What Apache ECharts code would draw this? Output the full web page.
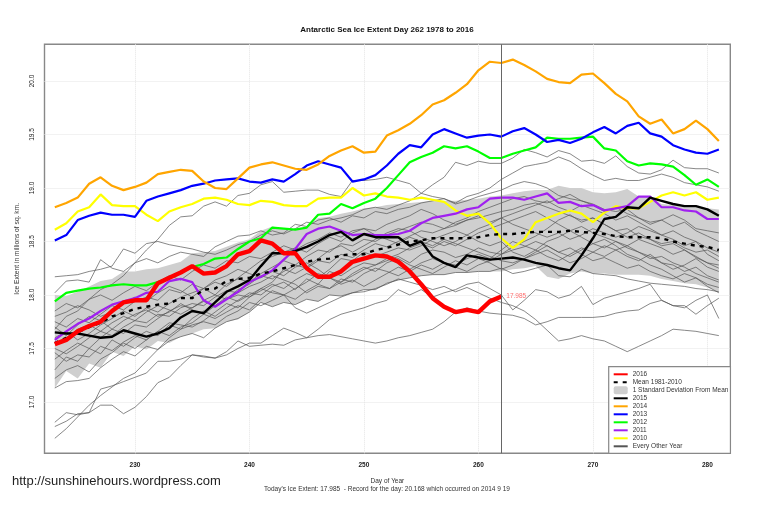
<!DOCTYPE html>
<html>
<head>
<meta charset="utf-8">
<style>html,body{margin:0;padding:0;background:#fff}#chart{width:759px;height:506px}</style>
<script src="https://cdn.jsdelivr.net/npm/echarts@6/dist/echarts.min.js"></script>
</head>
<body>
<div id="chart"></div>
<script>
// days 223..281
var startDay = 223;
var xTicks = [230, 240, 250, 260, 270, 280];
var yTicks = [17, 17.5, 18, 18.5, 19, 19.5, 20];

var y2016 = [17.54,17.58,17.66,17.71,17.75,17.85,17.93,17.95,17.95,18.11,
  18.16,18.21,18.27,18.20,18.21,18.27,18.38,18.41,18.51,18.48,
  18.39,18.39,18.25,18.17,18.17,18.22,18.31,18.34,18.37,18.36,
  18.31,18.22,18.10,17.97,17.89,17.84,17.86,17.84,17.94,17.985];
var y2015 = [17.65,17.64,17.64,17.62,17.60,17.61,17.67,17.64,17.61,17.64,
  17.69,17.79,17.85,17.83,17.93,18.03,18.08,18.14,18.27,18.39,
  18.39,18.41,18.45,18.50,18.56,18.59,18.51,18.57,18.54,18.54,
  18.54,18.46,18.50,18.36,18.30,18.26,18.37,18.35,18.33,18.34,
  18.35,18.33,18.30,18.28,18.25,18.23,18.37,18.53,18.71,18.73,
  18.82,18.81,18.91,18.88,18.85,18.83,18.83,18.80,18.74];
var y2014 = [18.82,18.86,18.91,19.04,19.10,19.02,18.98,19.01,19.05,19.13,
  19.15,19.17,19.16,19.06,19.00,18.99,19.09,19.19,19.22,19.24,
  19.21,19.18,19.17,19.22,19.30,19.35,19.39,19.33,19.34,19.49,
  19.54,19.60,19.68,19.78,19.82,19.89,19.97,20.10,20.18,20.168,
  20.20,20.15,20.09,20.02,19.99,19.98,20.06,20.07,19.98,19.88,
  19.81,19.67,19.60,19.64,19.51,19.55,19.63,19.55,19.44];
var y2013 = [18.51,18.56,18.70,18.74,18.77,18.75,18.75,18.73,18.88,18.92,
  18.95,18.98,19.02,19.04,19.07,19.08,19.09,19.06,19.05,19.08,
  19.06,19.13,19.21,19.25,19.22,19.19,19.06,19.08,19.12,19.21,
  19.32,19.40,19.38,19.50,19.55,19.51,19.47,19.49,19.50,19.48,
  19.53,19.56,19.50,19.43,19.45,19.42,19.46,19.52,19.57,19.51,
  19.58,19.61,19.51,19.48,19.40,19.36,19.33,19.32,19.36];
var y2012 = [17.94,18.02,18.04,18.06,18.07,18.09,18.10,18.09,18.09,18.12,
  18.16,18.21,18.26,18.29,18.34,18.35,18.43,18.50,18.53,18.63,
  18.62,18.61,18.63,18.75,18.76,18.85,18.81,18.86,18.90,19.00,
  19.12,19.24,19.29,19.33,19.39,19.37,19.39,19.34,19.28,19.28,
  19.32,19.35,19.38,19.47,19.46,19.46,19.47,19.48,19.37,19.35,
  19.25,19.21,19.23,19.22,19.20,19.12,19.03,19.08,19.01];
var y2011 = [17.58,17.66,17.73,17.78,17.85,17.91,17.94,17.97,18.02,18.03,
  18.13,18.15,18.12,17.95,17.89,17.96,18.03,18.12,18.17,18.23,
  18.33,18.43,18.57,18.62,18.64,18.60,18.56,18.57,18.56,18.56,
  18.57,18.60,18.67,18.72,18.74,18.76,18.80,18.82,18.90,18.91,
  18.91,18.89,18.92,18.95,18.86,18.87,18.83,18.84,18.79,18.81,
  18.83,18.92,18.92,18.82,18.82,18.79,18.78,18.71,18.71];
var y2010 = [18.61,18.67,18.78,18.82,18.94,18.84,18.83,18.83,18.75,18.69,
  18.78,18.82,18.85,18.90,18.91,18.89,18.85,18.84,18.88,18.87,
  18.84,18.83,18.83,18.90,18.91,18.91,19.00,18.93,18.95,18.92,
  18.91,18.89,18.91,18.89,18.87,18.79,18.74,18.76,18.67,18.53,
  18.44,18.52,18.68,18.72,18.76,18.79,18.76,18.68,18.77,18.83,
  18.81,18.81,18.87,18.93,18.96,18.93,18.96,18.89,18.91];
var meanLine = [17.55,17.60,17.65,17.70,17.74,17.80,17.83,17.87,17.89,17.91,
  17.92,17.97,17.97,18.05,18.06,18.13,18.15,18.16,18.20,18.22,
  18.25,18.28,18.31,18.33,18.34,18.37,18.38,18.38,18.42,18.44,
  18.47,18.50,18.51,18.53,18.53,18.53,18.53,18.54,18.56,18.57,
  18.57,18.58,18.59,18.59,18.59,18.60,18.59,18.58,18.57,18.55,
  18.54,18.54,18.54,18.53,18.50,18.48,18.46,18.45,18.42];
var bandUpper = [18.00,17.99,18.03,18.08,18.13,18.15,18.22,18.22,18.24,18.25,
  18.28,18.31,18.39,18.40,18.41,18.45,18.49,18.52,18.60,18.64,
  18.62,18.62,18.63,18.72,18.73,18.76,18.78,18.81,18.82,18.84,
  18.85,18.86,18.87,18.88,18.88,18.88,18.89,18.90,18.92,18.93,
  18.95,18.97,18.98,18.98,19.02,19.00,19.00,18.96,18.95,18.96,
  18.99,18.92,18.92,18.85,18.84,18.82,18.82,18.81,18.80];
var bandLower = [17.13,17.29,17.22,17.36,17.32,17.47,17.43,17.52,17.49,17.57,
  17.55,17.61,17.64,17.68,17.69,17.75,17.77,17.84,17.93,17.89,
  17.93,17.91,17.96,17.94,18.00,17.99,18.02,18.05,18.05,18.11,
  18.14,18.16,18.18,18.19,18.19,18.21,18.21,18.22,18.22,18.22,
  18.24,18.25,18.27,18.17,18.15,18.20,18.22,18.20,18.20,18.19,
  18.19,18.19,18.18,18.15,18.13,18.11,18.10,18.07,18.03];

// every other year, thin grey
var otherA = [17.68,17.80,17.85,17.96,18.05,18.10,18.18,18.30,18.42,18.52,
  18.65,18.73,18.74,18.83,18.87,18.83,18.93,18.95,19.03,19.06,
  18.96,18.97,18.98,18.98,18.94,18.92,19.07,19.07,19.08,19.10,
  19.07,19.04,18.95,18.92,18.90,18.85,18.88,18.92,18.95,18.98,
  19.03,19.06,19.04,19.00,18.93,18.90,18.88,18.85,18.80,18.78,
  18.80,18.72,18.68,18.70,18.75,18.70,18.62,18.60,18.58];
var otherB = [18.17,18.18,18.19,18.22,18.24,18.27,18.43,18.39,18.48,18.50,
  18.47,18.45,18.43,18.40,18.38,18.42,18.47,18.50,18.56,18.60,
  18.57,18.62,18.68,18.66,18.70,18.72,18.75,18.80,18.82,18.80,
  18.84,18.88,18.95,19.03,19.10,19.24,19.21,19.25,19.23,19.23,
  19.28,19.36,19.33,19.29,19.35,19.32,19.25,19.26,19.23,19.30,
  19.20,19.14,19.13,19.17,19.26,19.19,19.18,19.18,19.14];
var otherC = [18.02,18.13,18.14,18.12,18.33,18.25,18.22,18.30,18.34,18.30,
  18.36,18.40,18.38,18.36,18.45,18.50,18.55,18.56,18.60,18.56,
  18.58,18.66,18.64,18.70,18.72,18.68,18.74,18.72,18.78,18.76,
  18.80,18.82,18.86,18.88,18.90,18.86,18.92,18.95,19.00,19.08,
  19.14,19.20,19.22,19.24,19.29,19.25,19.18,19.12,19.07,19.09,
  19.07,19.07,19.10,19.13,19.10,19.05,19.03,19.01,18.97];
var otherD = [16.66,16.75,16.86,16.97,17.06,17.14,17.22,17.27,17.38,17.49,
  17.60,17.68,17.72,17.75,17.72,17.80,17.85,17.93,17.90,17.95,
  18.00,17.88,17.83,17.88,17.93,17.98,18.02,18.03,18.06,18.10,
  18.15,18.12,18.09,18.05,18.08,18.03,18.07,18.02,17.97,17.93,
  17.90,17.85,17.77,17.67,17.57,17.59,17.62,17.59,17.57,17.52,
  17.47,17.52,17.57,17.62,17.68,17.67,17.66,17.64,17.62];
var otherE = [16.77,16.82,16.89,16.90,16.97,16.97,16.89,16.95,17.05,17.18,
  17.23,17.34,17.44,17.43,17.41,17.47,17.57,17.52,17.53,17.54,
  17.53,17.58,17.60,17.62,17.63,17.61,17.59,17.57,17.55,17.57,
  17.60,17.62,17.65,17.68,17.75,17.84,17.88,17.85,17.83,17.82,
  17.81,17.78,17.72,17.75,17.79,17.79,17.79,17.79,17.80,17.83,
  17.85,17.86,17.92,17.95,17.90,17.88,17.95,18.00,17.78];
var otherF = [16.81,16.90,16.88,16.90,17.12,17.15,17.19,17.23,17.27,17.38,
  17.38,17.40,17.44,17.42,17.41,17.44,17.50,17.55,17.55,17.62,
  17.69,17.65,17.60,17.68,17.77,17.82,17.85,17.88,17.92,17.95,
  18.05,18.00,18.05,17.98,18.02,18.05,18.10,18.12,18.06,18.00,
  17.86,17.95,18.05,18.03,17.97,18.00,18.08,17.91,17.97,18.00,
  18.03,18.06,18.10,17.95,17.90,17.90,17.82,17.90,17.97];
var otherG = [17.13,17.19,17.20,17.22,17.32,17.40,17.47,17.43,17.52,17.49,
  17.57,17.61,17.64,17.60,17.69,17.75,17.78,17.84,17.93,17.89,
  17.93,17.91,17.96,17.94,18.00,17.99,18.02,18.05,18.05,18.11,
  18.14,18.16,18.18,18.19,18.19,18.21,18.21,18.22,18.22,18.25,
  18.20,18.22,18.25,18.28,18.18,18.17,18.24,18.20,18.19,18.18,
  18.15,18.13,18.11,18.10,18.09,18.08,18.06,18.05,18.03];
var otherH = [17.30,17.42,17.38,17.50,17.45,17.58,17.52,17.60,17.66,17.62,
  17.72,17.68,17.78,17.85,17.80,17.88,17.95,18.02,18.00,18.08,
  18.12,18.05,18.15,18.10,18.22,18.18,18.25,18.30,18.28,18.32,
  18.36,18.30,18.38,18.42,18.40,18.35,18.38,18.44,18.40,18.38,
  18.42,18.45,18.50,18.46,18.40,18.44,18.38,18.32,18.35,18.30,
  18.25,18.28,18.22,18.18,18.15,18.20,18.16,18.10,18.07];
var otherI = [17.40,17.48,17.55,17.50,17.60,17.68,17.64,17.72,17.70,17.78,
  17.85,17.90,17.88,17.95,18.00,17.96,18.05,18.10,18.18,18.15,
  18.22,18.28,18.25,18.32,18.30,18.38,18.35,18.42,18.48,18.45,
  18.50,18.55,18.60,18.58,18.62,18.65,18.70,18.72,18.75,18.78,
  18.80,18.84,18.86,18.82,18.78,18.74,18.70,18.72,18.66,18.60,
  18.62,18.55,18.52,18.48,18.50,18.44,18.40,18.42,18.36];
var otherJ = [17.50,17.45,17.52,17.60,17.66,17.62,17.70,17.76,17.74,17.82,
  17.80,17.88,17.92,17.90,17.98,18.04,18.02,18.08,18.12,18.18,
  18.14,18.10,18.02,18.08,18.06,18.15,18.12,18.20,18.25,18.22,
  18.18,18.24,18.30,18.34,18.30,18.26,18.22,18.28,18.32,18.38,
  18.45,18.50,18.55,18.62,18.70,18.75,18.68,18.72,18.66,18.60,
  18.54,18.58,18.52,18.46,18.48,18.42,18.35,18.30,18.25];
var otherK = [17.60,17.66,17.58,17.64,17.72,17.78,17.85,17.80,17.88,17.84,
  17.92,17.98,18.02,18.06,18.00,18.10,18.15,18.12,18.20,18.26,
  18.32,18.28,18.36,18.42,18.40,18.48,18.46,18.52,18.50,18.56,
  18.60,18.64,18.68,18.66,18.62,18.68,18.72,18.78,18.82,18.86,
  18.90,18.92,18.88,18.86,18.90,18.94,18.88,18.84,18.78,18.82,
  18.76,18.72,18.66,18.70,18.64,18.68,18.60,18.55,18.50];
var otherL = [17.75,17.70,17.78,17.74,17.82,17.90,17.86,17.94,17.98,17.95,
  18.05,18.02,18.10,18.06,18.14,18.18,18.24,18.20,18.16,18.22,
  18.18,18.26,18.30,18.24,18.16,18.12,18.20,18.26,18.22,18.30,
  18.34,18.28,18.24,18.20,18.26,18.32,18.28,18.34,18.30,18.24,
  18.28,18.34,18.40,18.46,18.40,18.36,18.42,18.48,18.44,18.50,
  18.46,18.40,18.34,18.36,18.30,18.26,18.20,18.16,18.12];
var otherM = [17.85,17.92,17.88,17.96,18.00,17.95,18.02,18.08,18.04,18.12,
  18.18,18.14,18.22,18.28,18.25,18.32,18.30,18.36,18.34,18.40,
  18.46,18.42,18.48,18.52,18.58,18.54,18.60,18.62,18.56,18.52,
  18.48,18.54,18.50,18.46,18.52,18.48,18.44,18.40,18.36,18.32,
  18.30,18.34,18.38,18.42,18.36,18.30,18.34,18.40,18.36,18.42,
  18.46,18.52,18.48,18.44,18.38,18.42,18.36,18.30,18.28];
var otherN = [17.55,17.60,17.68,17.72,17.66,17.74,17.80,17.76,17.84,17.90,
  17.86,17.82,17.88,17.94,17.90,17.98,17.94,18.00,18.06,18.02,
  18.00,17.96,18.04,18.10,18.06,18.12,18.18,18.24,18.28,18.34,
  18.38,18.44,18.48,18.44,18.50,18.46,18.52,18.58,18.62,18.66,
  18.70,18.74,18.78,18.72,18.66,18.60,18.64,18.58,18.54,18.50,
  18.44,18.40,18.36,18.30,18.28,18.22,18.26,18.18,18.14];
var otherO = [17.80,17.84,17.90,17.86,17.80,17.84,17.92,17.98,17.94,18.02,
  18.08,18.04,17.98,18.06,18.12,18.08,18.16,18.24,18.32,18.36,
  18.40,18.44,18.40,18.48,18.54,18.50,18.58,18.62,18.60,18.66,
  18.70,18.74,18.80,18.76,18.70,18.66,18.70,18.74,18.68,18.72,
  18.76,18.80,18.84,18.88,18.82,18.78,18.84,18.80,18.76,18.70,
  18.74,18.68,18.62,18.56,18.60,18.54,18.50,18.44,18.40];
var otherP = [17.22,17.30,17.34,17.28,17.40,17.46,17.55,17.50,17.58,17.66,
  17.62,17.70,17.74,17.82,17.78,17.84,17.90,17.86,17.96,18.04,
  18.00,18.06,18.12,18.20,18.16,18.10,18.14,18.08,18.14,18.20,
  18.26,18.22,18.28,18.24,18.30,18.28,18.34,18.38,18.34,18.42,
  18.50,18.46,18.42,18.36,18.32,18.38,18.44,18.40,18.46,18.42,
  18.36,18.32,18.38,18.30,18.24,18.28,18.34,18.26,18.22];
var otherQ = [17.46,17.38,17.44,17.42,17.52,17.48,17.56,17.62,17.58,17.66,
  17.74,17.72,17.70,17.76,17.84,17.92,17.88,17.98,18.04,18.10,
  18.06,18.14,18.20,18.16,18.24,18.34,18.32,18.40,18.36,18.40,
  18.44,18.42,18.46,18.52,18.56,18.60,18.56,18.62,18.66,18.72,
  18.66,18.62,18.58,18.54,18.58,18.52,18.56,18.62,18.58,18.54,
  18.58,18.64,18.60,18.56,18.52,18.46,18.50,18.38,18.32];
var otherR = [17.70,17.62,17.72,17.80,17.76,17.68,17.76,17.82,17.86,17.80,
  17.84,17.92,17.86,17.82,17.90,17.96,18.00,17.98,18.06,18.12,
  18.24,18.20,18.26,18.34,18.42,18.46,18.40,18.46,18.52,18.58,
  18.62,18.60,18.54,18.50,18.46,18.50,18.56,18.50,18.46,18.50,
  18.40,18.36,18.42,18.50,18.54,18.60,18.54,18.48,18.52,18.46,
  18.38,18.34,18.28,18.24,18.18,18.12,18.16,18.08,18.02];
var otherYears = [otherA,otherB,otherC,otherD,otherE,otherF,otherG,otherH,otherI,otherJ,otherK,otherL,otherM,otherN,otherO,otherP,otherQ,otherR];

function pairs(values) {
  return values.map(function (v, i) { return [startDay + i, v]; });
}
function yearLine(name, values, color, width) {
  return {
    name: name, type: 'line', data: pairs(values), symbol: 'none',
    lineStyle: {color: color, width: width}, itemStyle: {color: color}
  };
}

var font = '"Liberation Sans", Arial, sans-serif';
var bandColor = '#cfcfcf';
var series = [];

// grey band as one polygon, upper edge then lower edge backwards
series.push({
  name: '1 Standard Deviation From Mean', type: 'custom',
  data: bandUpper.map(function (v, i) { return [startDay + i, bandLower[i], v]; }),
  encode: {x: 0, y: [1, 2]},
  itemStyle: {color: bandColor},
  renderItem: function (params, api) {
    if (params.dataIndex !== 0) return;
    var points = [];
    bandUpper.forEach(function (v, i) { points.push(api.coord([startDay + i, v])); });
    for (var i = bandLower.length - 1; i >= 0; i--) {
      points.push(api.coord([startDay + i, bandLower[i]]));
    }
    return {type: 'polygon', shape: {points: points}, style: {fill: bandColor}};
  }
});
otherYears.forEach(function (values) {
  series.push(yearLine('Every Other Year', values, '#555', 0.7));
});
series.push(yearLine('2010', y2010, '#ffff00', 2.2));
series.push(yearLine('2011', y2011, '#a020f0', 2.2));
series.push(yearLine('2012', y2012, '#00ff00', 2.2));
series.push(yearLine('2013', y2013, '#0000ff', 2.2));
series.push(yearLine('2014', y2014, '#ffa500', 2.2));
series.push(yearLine('2015', y2015, '#000000', 2.4));
var meanSeries = yearLine('Mean 1981-2010', meanLine, '#000000', 2.4);
meanSeries.lineStyle.type = [4, 5];
series.push(meanSeries);
var s2016 = yearLine('2016', y2016, '#ff0000', 4.4);
s2016.endLabel = {
  show: true, distance: 5, fontFamily: font, fontSize: 6.5, color: '#ff7070',
  formatter: function () { return y2016[y2016.length - 1].toFixed(3); }
};
s2016.markLine = {
  silent: true, symbol: 'none', animation: false, label: {show: false},
  lineStyle: {color: '#666', width: 1, type: 'solid'}, data: [{xAxis: 262}]
};
series.push(s2016);

var noDot = {color: 'rgba(0,0,0,0)', borderWidth: 0};
var chart = echarts.init(document.getElementById('chart'), null, {renderer: 'canvas'});
chart.setOption({
  animation: false,
  backgroundColor: '#fff',
  title: [
    {text: 'Antarctic Sea Ice Extent Day 262 1978 to 2016', left: 387, top: 26, padding: 0, textAlign: 'center',
      textStyle: {fontFamily: font, fontSize: 8, fontWeight: 'bold', color: '#111'}},
    {text: "Today's Ice Extent: 17.985  - Record for the day: 20.168 which occurred on 2014 9 19", left: 387, top: 486, padding: 0, textAlign: 'center',
      textStyle: {fontFamily: font, fontSize: 6.5, fontWeight: 'normal', color: '#333'}},
    {text: 'http://sunshinehours.wordpress.com', left: 12, top: 475, padding: 0,
      textStyle: {fontFamily: font, fontSize: 13, fontWeight: 'normal', color: '#222'}}
  ],
  grid: {left: 44.5, right: 28.7, top: 44.3, bottom: 52.7, show: true, borderColor: '#888', borderWidth: 1.4, backgroundColor: '#fff'},
  legend: {
    left: 608.7, top: 366.7, orient: 'vertical', padding: [3.6, 2, 3, 4], itemGap: 0,
    itemWidth: 14, itemHeight: 8, backgroundColor: '#fff', borderColor: '#888', borderWidth: 1.2,
    itemStyle: noDot,
    textStyle: {fontFamily: font, fontSize: 6.5, color: '#333', lineHeight: 8},
    data: [
      {name: '2016'}, {name: 'Mean 1981-2010'},
      {name: '1 Standard Deviation From Mean', icon: 'roundRect', itemStyle: {color: bandColor}},
      {name: '2015'}, {name: '2014'}, {name: '2013'}, {name: '2012'}, {name: '2011'}, {name: '2010'},
      {name: 'Every Other Year'}
    ]
  },
  xAxis: {
    type: 'value', min: 222.1, max: 282, name: 'Day of Year', nameLocation: 'middle', nameGap: 24,
    nameTextStyle: {fontFamily: font, fontSize: 6.5, color: '#333'},
    axisLine: {show: false}, axisTick: {show: false, customValues: xTicks},
    axisLabel: {customValues: xTicks, fontFamily: font, fontSize: 6.5, fontWeight: 'bold', color: '#222', margin: 8},
    splitLine: {show: true, lineStyle: {color: '#e4e4e4', width: 1, type: 'dotted'}}
  },
  yAxis: {
    type: 'value', min: 16.52, max: 20.343, name: 'Ice Extent in millions of sq. km.', nameLocation: 'middle', nameGap: 24,
    nameRotate: 90, nameTextStyle: {fontFamily: font, fontSize: 6.7, color: '#333'},
    axisLine: {show: false}, axisTick: {show: false, customValues: yTicks},
    axisLabel: {customValues: yTicks, rotate: 90, fontFamily: font, fontSize: 6.5, color: '#222', margin: 9,
      formatter: function (v) { return v.toFixed(1); }},
    splitLine: {show: true, lineStyle: {color: '#e4e4e4', width: 1, type: 'dotted'}}
  },
  series: series
});
</script>
</body>
</html>
